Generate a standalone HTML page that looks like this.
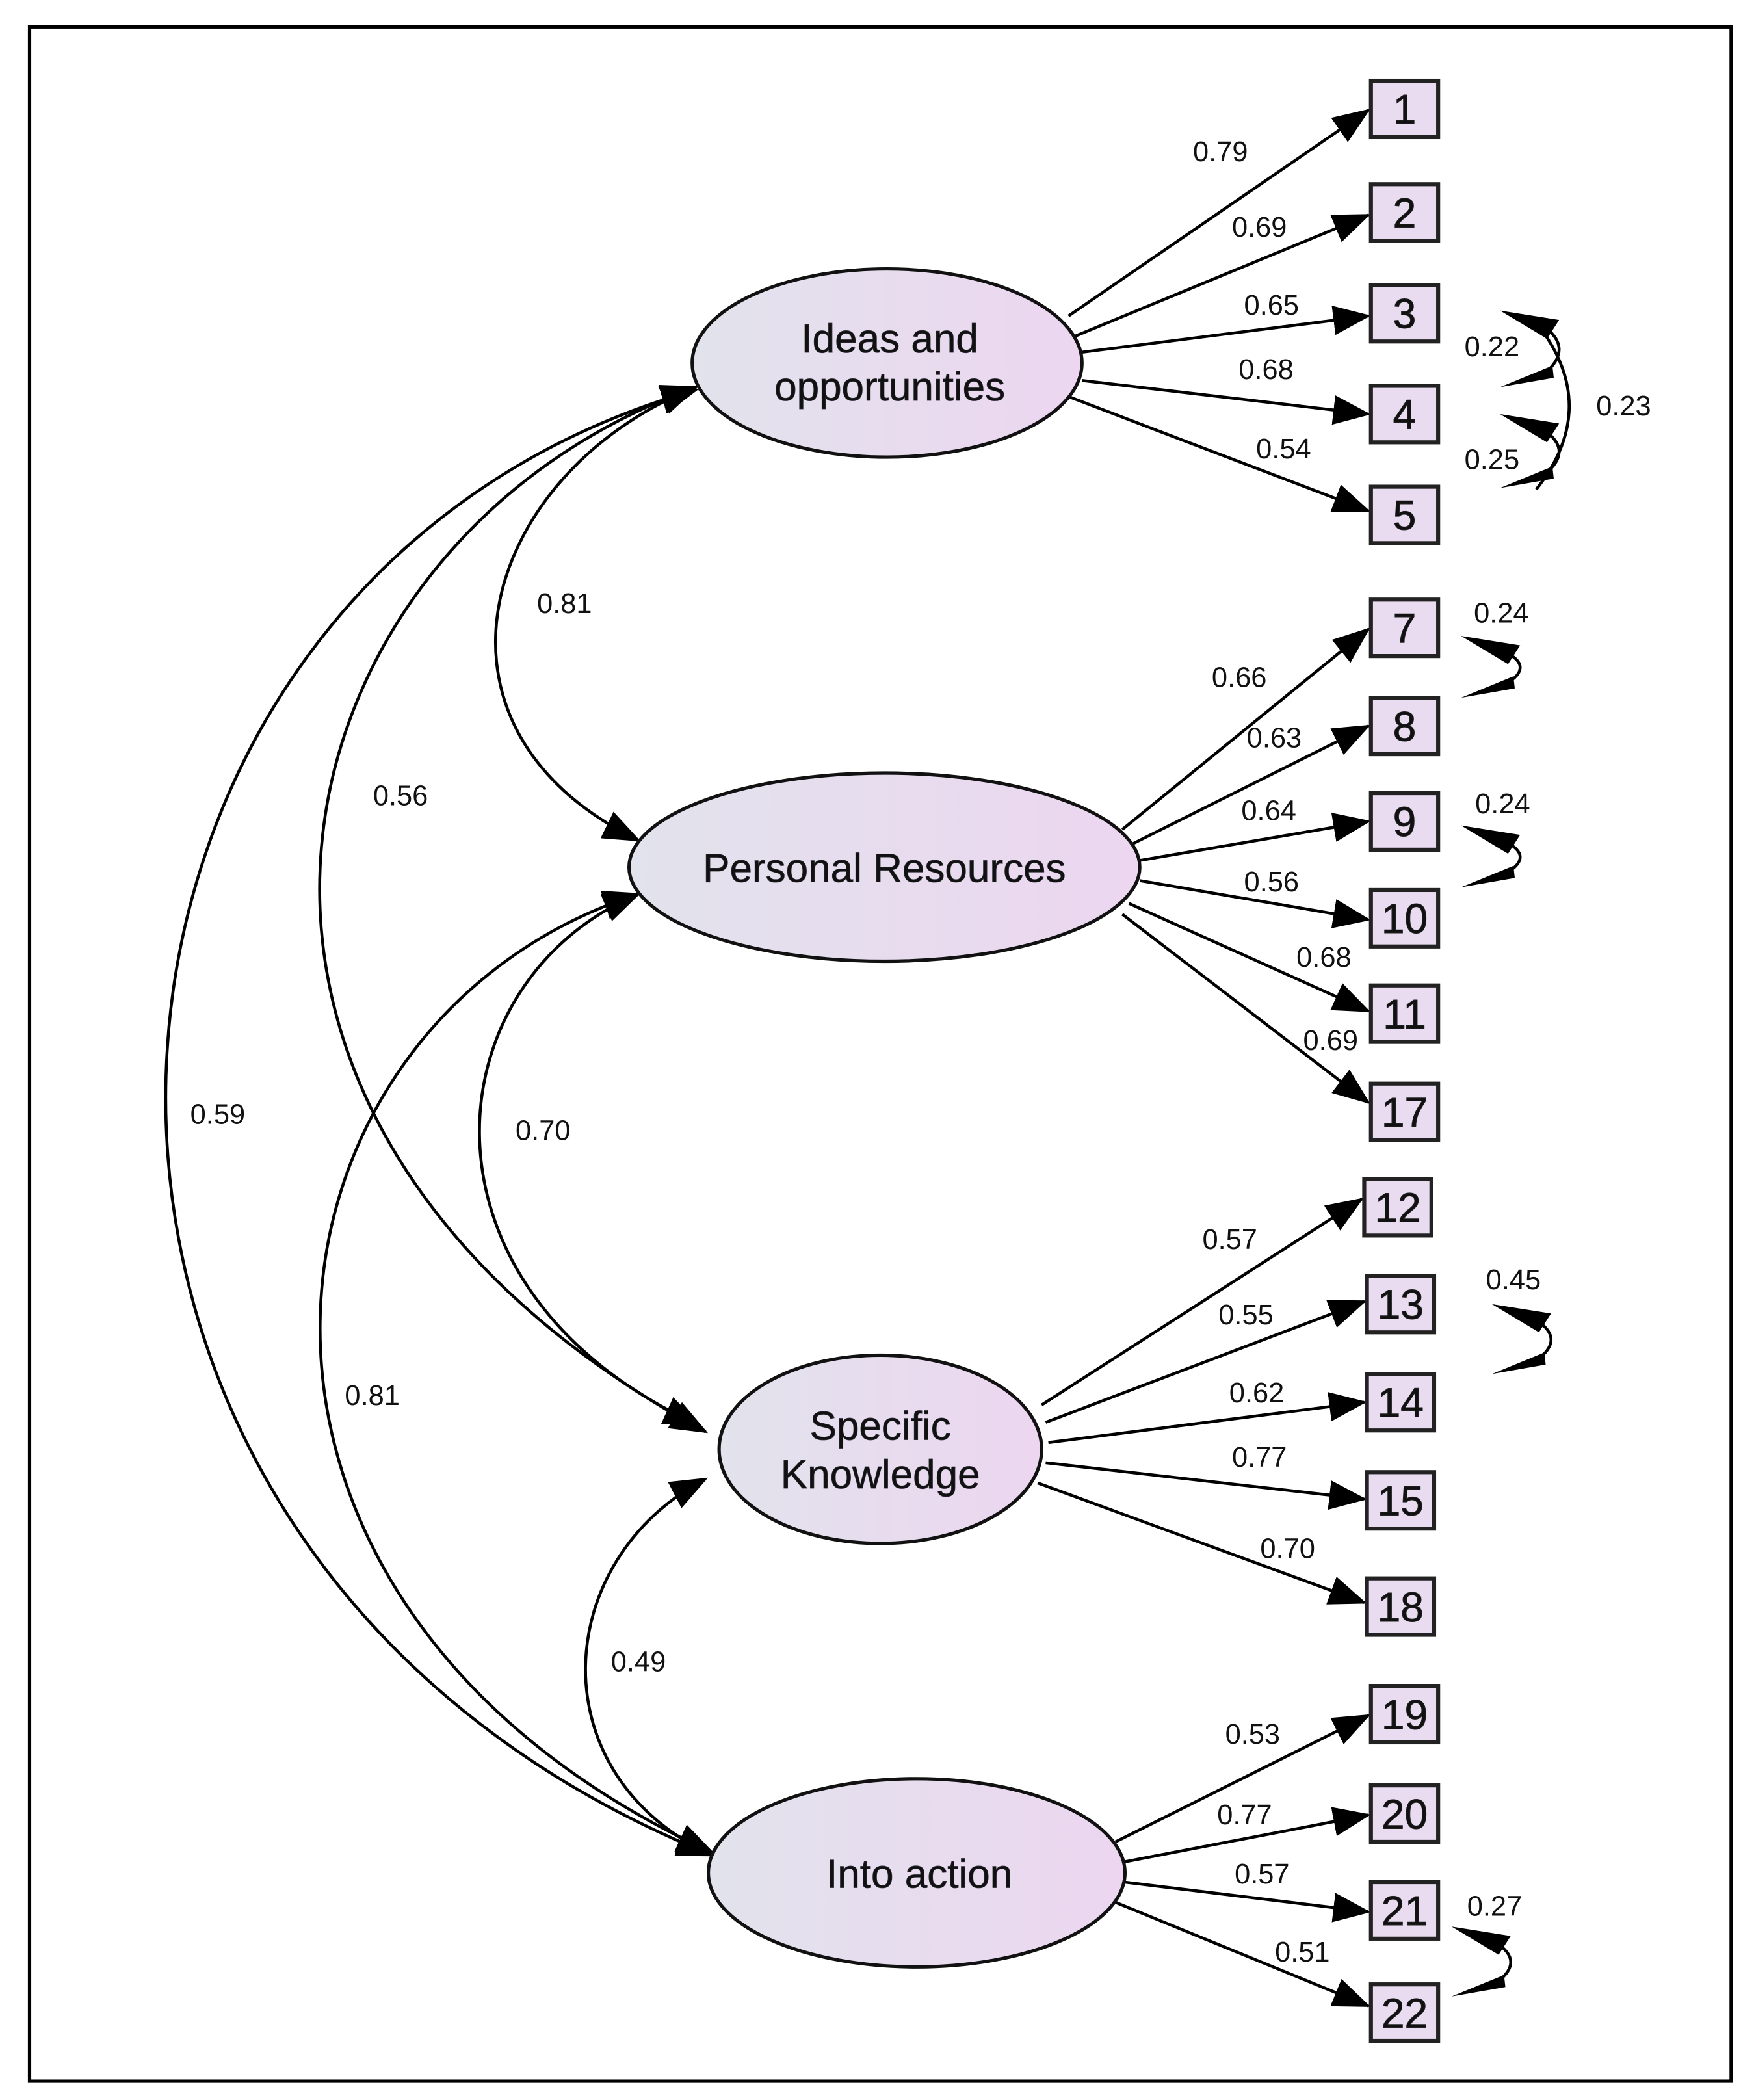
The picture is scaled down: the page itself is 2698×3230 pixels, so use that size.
<!DOCTYPE html>
<html><head><meta charset="utf-8"><style>
html,body{margin:0;padding:0;background:#fff;width:2698px;height:3230px;overflow:hidden}
svg{display:block}
text{font-family:"Liberation Sans",sans-serif;fill:#111}
.l{font-size:21px}
.e{font-size:30px;fill:#2a2a33;stroke:#2a2a33;stroke-width:0.4}
.b{font-size:31px;fill:#222;stroke:#222;stroke-width:0.5}
</style></head><body>
<svg width="2698" height="3230" viewBox="0 0 1305 1562" preserveAspectRatio="none" xmlns="http://www.w3.org/2000/svg">
<defs>
<marker id="a" markerUnits="userSpaceOnUse" markerWidth="28" markerHeight="22" refX="26" refY="11" orient="auto-start-reverse"><path d="M0,0 L28,11 L0,22 Z" fill="#000"/></marker>
<linearGradient id="g" x1="0" x2="1" y1="0" y2="0"><stop offset="0" stop-color="#e2e3ec"/><stop offset="1" stop-color="#ecd6f0"/></linearGradient>
</defs>
<rect x="22" y="20" width="1266" height="1528" fill="none" stroke="#000" stroke-width="2.5"/>
<g fill="none" stroke="#000" stroke-width="2.2">
<path d="M795,235 L1018,82" marker-end="url(#a)"/>
<path d="M800,250 L1018,160" marker-end="url(#a)"/>
<path d="M805,262 L1018,235" marker-end="url(#a)"/>
<path d="M805,283 L1018,308" marker-end="url(#a)"/>
<path d="M795,295 L1018,380" marker-end="url(#a)"/>
<path d="M835,617 L1018,468" marker-end="url(#a)"/>
<path d="M842,628 L1018,540" marker-end="url(#a)"/>
<path d="M848,640 L1018,611" marker-end="url(#a)"/>
<path d="M848,655 L1018,684" marker-end="url(#a)"/>
<path d="M840,672 L1018,752" marker-end="url(#a)"/>
<path d="M835,680 L1018,820" marker-end="url(#a)"/>
<path d="M775,1045 L1013,892" marker-end="url(#a)"/>
<path d="M778,1058 L1015,968" marker-end="url(#a)"/>
<path d="M780,1073 L1015,1043" marker-end="url(#a)"/>
<path d="M778,1088 L1015,1115" marker-end="url(#a)"/>
<path d="M772,1103 L1015,1192" marker-end="url(#a)"/>
<path d="M830,1370 L1018,1276" marker-end="url(#a)"/>
<path d="M836,1385 L1018,1350" marker-end="url(#a)"/>
<path d="M837,1400 L1018,1422" marker-end="url(#a)"/>
<path d="M830,1415 L1018,1492" marker-end="url(#a)"/>
<path d="M518,288 C360,350 300,540 475,625" marker-start="url(#a)" marker-end="url(#a)"/>
<path d="M518,288 C200,400 90,830 525,1065" marker-start="url(#a)" marker-end="url(#a)"/>
<path d="M518,290 C20,430 -40,1150 530,1380" marker-start="url(#a)" marker-end="url(#a)"/>
<path d="M475,665 C320,730 300,960 520,1060" marker-start="url(#a)" marker-end="url(#a)"/>
<path d="M475,665 C180,760 120,1190 530,1378" marker-start="url(#a)" marker-end="url(#a)"/>
<path d="M525,1100 C410,1160 400,1320 530,1380" marker-start="url(#a)" marker-end="url(#a)"/>
<!-- error covariance arcs -->
<path d="M1149,243 Q1171,259.5 1149,278"/>
<path d="M1149,320 Q1171,335.5 1149,353"/>
<path d="M1143,240 Q1192,302 1143,364"/>
<path d="M1120,485 Q1142,496 1120,509"/>
<path d="M1120,626 Q1142,637 1120,650"/>
<path d="M1143,982 Q1165,996 1143,1012"/>
<path d="M1113,1445 Q1135,1459 1113,1475"/>
</g>
<g fill="#000">
<polygon points="1116,231 1160,238 1151,252"/><polygon points="1116,288 1156,281 1155,272"/>
<polygon points="1116,308 1160,315 1151,329"/><polygon points="1116,363 1156,356 1155,347"/>
<polygon points="1087,473 1131,480 1122,494"/><polygon points="1087,519 1127,512 1126,503"/>
<polygon points="1087,614 1131,621 1122,635"/><polygon points="1087,660 1127,653 1126,644"/>
<polygon points="1110,970 1154,977 1145,991"/><polygon points="1110,1022 1150,1015 1149,1006"/>
<polygon points="1080,1433 1124,1440 1115,1454"/><polygon points="1080,1485 1120,1478 1119,1469"/>
</g>
<g stroke="#111" stroke-width="2.5" fill="url(#g)">
<ellipse cx="660" cy="270" rx="145" ry="70"/>
<ellipse cx="658" cy="645" rx="190" ry="70"/>
<ellipse cx="655" cy="1078" rx="120" ry="70"/>
<ellipse cx="682" cy="1393" rx="155" ry="70"/>
</g>
<g class="e" text-anchor="middle">
<text x="662" y="262">Ideas and</text><text x="662" y="298">opportunities</text>
<text x="658" y="656">Personal Resources</text>
<text x="655" y="1071">Specific</text><text x="655" y="1107">Knowledge</text>
<text x="684" y="1404">Into action</text>
</g>
<g stroke="#222" stroke-width="3" fill="#e9dcf1">
<rect x="1020" y="60" width="50" height="42"/>
<rect x="1020" y="137" width="50" height="42"/>
<rect x="1020" y="212" width="50" height="42"/>
<rect x="1020" y="287" width="50" height="42"/>
<rect x="1020" y="362" width="50" height="42"/>
<rect x="1020" y="446" width="50" height="42"/>
<rect x="1020" y="519" width="50" height="42"/>
<rect x="1020" y="590" width="50" height="42"/>
<rect x="1020" y="662" width="50" height="42"/>
<rect x="1020" y="733" width="50" height="42"/>
<rect x="1020" y="806" width="50" height="42"/>
<rect x="1015" y="877" width="50" height="42"/>
<rect x="1017" y="949" width="50" height="42"/>
<rect x="1017" y="1022" width="50" height="42"/>
<rect x="1017" y="1095" width="50" height="42"/>
<rect x="1017" y="1174" width="50" height="42"/>
<rect x="1020" y="1254" width="50" height="42"/>
<rect x="1020" y="1328" width="50" height="42"/>
<rect x="1020" y="1400" width="50" height="42"/>
<rect x="1020" y="1476" width="50" height="42"/>
</g>
<g class="b" text-anchor="middle">
<text x="1045" y="92">1</text><text x="1045" y="169">2</text><text x="1045" y="244">3</text><text x="1045" y="319">4</text><text x="1045" y="394">5</text>
<text x="1045" y="478">7</text><text x="1045" y="551">8</text><text x="1045" y="622">9</text><text x="1045" y="694">10</text><text x="1045" y="765">11</text><text x="1045" y="838">17</text>
<text x="1040" y="909">12</text><text x="1042" y="981">13</text><text x="1042" y="1054">14</text><text x="1042" y="1127">15</text><text x="1042" y="1206">18</text>
<text x="1045" y="1286">19</text><text x="1045" y="1360">20</text><text x="1045" y="1432">21</text><text x="1045" y="1508">22</text>
</g>
<g class="l" text-anchor="middle">
<text x="908" y="120">0.79</text><text x="937" y="176">0.69</text><text x="946" y="234">0.65</text><text x="942" y="282">0.68</text><text x="955" y="341">0.54</text>
<text x="1110" y="265">0.22</text><text x="1110" y="349">0.25</text><text x="1208" y="309">0.23</text>
<text x="1117" y="463">0.24</text><text x="1118" y="605">0.24</text>
<text x="922" y="511">0.66</text><text x="948" y="556">0.63</text><text x="944" y="610">0.64</text><text x="946" y="663">0.56</text><text x="985" y="719">0.68</text><text x="990" y="781">0.69</text>
<text x="420" y="456">0.81</text><text x="298" y="599">0.56</text><text x="162" y="836">0.59</text><text x="404" y="848">0.70</text><text x="277" y="1045">0.81</text><text x="475" y="1243">0.49</text>
<text x="915" y="929">0.57</text><text x="927" y="985">0.55</text><text x="935" y="1043">0.62</text><text x="937" y="1091">0.77</text><text x="958" y="1159">0.70</text>
<text x="1126" y="959">0.45</text>
<text x="932" y="1297">0.53</text><text x="926" y="1357">0.77</text><text x="939" y="1401">0.57</text><text x="969" y="1459">0.51</text><text x="1112" y="1425">0.27</text>
</g>
</svg>
</body></html>
